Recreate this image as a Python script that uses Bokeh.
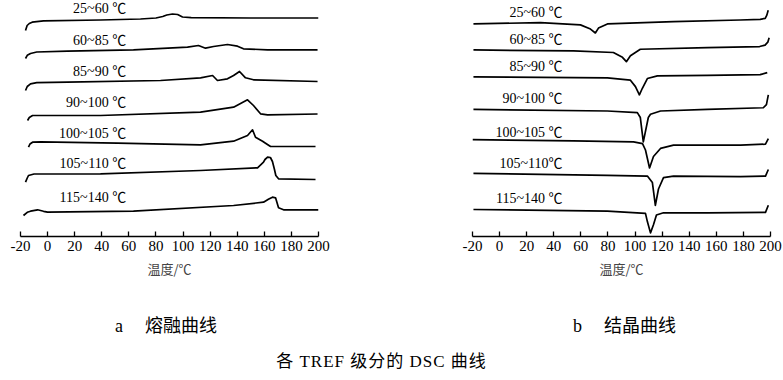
from bokeh.plotting import figure
from bokeh.models import Range1d, Div, FixedTicker, ColumnDataSource
from bokeh.layouts import row, column
from bokeh.embed import file_html
from bokeh.resources import INLINE
from bokeh.core.properties import value

# ---------------- data ----------------
melt_labels = ["25~60 ℃", "60~85 ℃", "85~90 ℃", "90~100 ℃", "100~105 ℃", "105~110 ℃", "115~140 ℃"]
cryst_labels = ["25~60 ℃", "60~85 ℃", "85~90 ℃", "90~100 ℃", "100~105 ℃", "105~110℃", "115~140 ℃"]
x_ticks = [-20, 0, 20, 40, 60, 80, 100, 120, 140, 160, 180, 200]
caption_a = ("a", "熔融曲线")
caption_b = ("b", "结晶曲线")
main_caption = "各 TREF 级分的 DSC 曲线"
x_label = "温度/℃"

# melting curves: temperature (°C) and heat flow (arb. units, endo up)
melt_t_1 = [-16.3, -15.1, -13.5, -11.4, -3, 39, 68.6, 80, 85, 88, 92.2, 96, 99.6, 106, 150, 200]
melt_h_1 = [-12.5, -7.5, -5.5, -4.2, -2.8, -2, -1, 0, 1.5, 3, 4, 3.5, 1, 0.3, 0, 0]
melt_t_2 = [-16.3, -15, -12.6, -8, 14.7, 63.4, 103.3, 111.4, 116.6, 122.5, 132.8, 140.2, 144.6, 162.4, 199.3]
melt_h_2 = [-8.7, -5.5, -3.7, -2.2, -1.4, 0, 2.6, 4.3, 1.6, 3.3, 5.3, 3.6, 1, 0, 0]
melt_t_3 = [-16.3, -15, -12.6, -8, 14.7, 83.4, 112.9, 121.8, 125.4, 132.8, 137.3, 141.7, 146.1, 152, 199.3]
melt_h_3 = [-9, -5, -2.3, -1.2, -0.7, 1, 3.7, 6, 1, 2.7, 6, 10, 3.7, 1.7, 0]
melt_t_4 = [-14.8, -13.5, -11.1, 39.1, 112.9, 137.3, 147.6, 152, 157.2, 162.4, 199.3]
melt_h_4 = [-6.5, -3.5, -1.5, -1.5, 1.8, 6.8, 14.2, 8.5, 0.2, -0.8, 0]
melt_t_5 = [-14.1, -13, -11.1, -5, 51.6, 112.9, 137.3, 147.6, 151.3, 153.5, 158.7, 160.9, 164.6, 197.8]
melt_h_5 = [-0.7, 2.5, 4.3, 4.6, 3.3, 1.7, 5.3, 11, 16.7, 9.3, 5.3, 3.3, 0, 0]
melt_t_6 = [-16.3, -15, -14.1, -10, 39.1, 112.9, 155, 159.4, 160.5, 162.4, 164.5, 166, 167.5, 168.5, 170.5, 197.8]
melt_h_6 = [-2.7, 1.5, 4, 5.5, 5.7, 9, 11.7, 17.3, 20, 22.3, 22, 18, 10, 4, 0.7, 0]
melt_t_7 = [-17.8, -15, -12.6, -7.4, -3, 0, 63.4, 137.3, 159.4, 163, 166, 168.3, 170.5, 174.2, 200]
melt_h_7 = [-5.7, -2.5, -1.4, 0, -1.5, -2.4, -1.4, 4.3, 7.6, 10.5, 12.6, 12, 2, 0, 0]

# crystallization curves: temperature (°C) and heat flow (arb. units, exo down)
cryst_t_1 = [-19.3, 30.2, 59.7, 67.1, 70.7, 73, 79.6, 128.4, 177.6, 192.4, 196.1, 197.3, 198.3]
cryst_h_1 = [0, 1.3, -1, -5.3, -9.3, -4.3, 0, 2.3, 4, 4.7, 5.7, 9, 14]
cryst_t_2 = [-19.3, 54.5, 84, 90.7, 93.6, 96.6, 103.9, 153.4, 192, 196, 198, 199]
cryst_h_2 = [0, -1, -2.6, -7.6, -12, -6, 0.7, 2.4, 3.5, 5, 8, 12.4]
cryst_t_3 = [-19.3, 79.6, 96.6, 100.3, 103.2, 105.4, 109.1, 116.5, 153.4, 192.4, 197.6]
cryst_h_3 = [0, -1, -3.4, -10, -18.4, -11.7, -1.7, 1, 1.6, 2.3, 4.3]
cryst_t_4 = [-19.3, 79.6, 101.7, 103.9, 106.1, 109.8, 111.4, 118.8, 153.4, 194.7, 197, 198.4]
cryst_h_4 = [0, -1.6, -3.3, -8.3, -33.3, -8.3, -5, -1.6, 0, 1.7, 5, 15]
cryst_t_5 = [-20, 54.5, 98.9, 105.5, 107.7, 110.7, 113.6, 118.8, 128.4, 177.9, 196.3, 198.4]
cryst_h_5 = [0, -1.3, -2.3, -4, -10.6, -29, -17.3, -9, -5.6, -5.6, -4.6, 1]
cryst_t_6 = [-19.3, 79.6, 109.1, 112.8, 115, 117.3, 121, 128.4, 177.9, 196.3, 198.4]
cryst_h_6 = [0, -2, -2.7, -9.4, -32.7, -16, -4.4, -2.7, -3.4, -2.7, 4]
cryst_t_7 = [-19.3, 79.6, 107.7, 109.1, 111.4, 113.6, 115.8, 121, 153.4, 196.3, 198.4]
cryst_h_7 = [0, -1.7, -4, -12.4, -24, -15.7, -5.7, -3.4, -3.4, -3, 4.3]

# ---------------- layout (positions, not data) ----------------
melt_base = [17.5, 49.3, 81, 113.5, 146, 179, 209.3]       # stacking offsets (px-like units)
cryst_base = [24, 50.7, 78.3, 111.7, 142.7, 177.3, 214.3]
melt_label_y = [8, 40, 71, 102, 133, 163, 197]
cryst_label_y = [12, 40, 68, 100, 135, 167, 203]
melt_label_x = 58
cryst_label_x = 46.5

SERIF = "Liberation Serif, Noto Sans CJK SC"
CJK = "Noto Sans CJK SC"
FIG_H = 292

melt_series = [(melt_t_1, melt_h_1), (melt_t_2, melt_h_2), (melt_t_3, melt_h_3), (melt_t_4, melt_h_4),
               (melt_t_5, melt_h_5), (melt_t_6, melt_h_6), (melt_t_7, melt_h_7)]
cryst_series = [(cryst_t_1, cryst_h_1), (cryst_t_2, cryst_h_2), (cryst_t_3, cryst_h_3), (cryst_t_4, cryst_h_4),
                (cryst_t_5, cryst_h_5), (cryst_t_6, cryst_h_6), (cryst_t_7, cryst_h_7)]


def make_panel(series, bases, labels, label_y, label_x, width, border_left, border_right, y_bottom):
    p = figure(width=width, height=FIG_H, output_backend="svg", toolbar_location=None,
               x_range=Range1d(-20, 200), y_range=Range1d(-y_bottom, 0),
               y_axis_location=None, min_border_left=border_left, min_border_right=border_right,
               min_border_top=0, min_border_bottom=FIG_H - y_bottom)
    p.outline_line_color = None
    p.xgrid.visible = False
    p.ygrid.visible = False
    for (t, h), b in zip(series, bases):
        p.line(t, [v - b for v in h], line_color="black", line_width=1.7, line_join="round")
    src = ColumnDataSource(dict(x=[label_x] * len(labels), y=[-v for v in label_y], text=labels))
    p.text(x="x", y="y", text="text", source=src, text_align="right", text_baseline="middle",
           text_font=value(SERIF), text_font_size="14px", text_color="black")
    ax = p.xaxis[0]
    ax.ticker = FixedTicker(ticks=x_ticks)
    ax.major_label_overrides = {-20: "-20"}
    ax.minor_tick_line_color = None
    ax.major_tick_in = 5
    ax.major_tick_out = 0
    ax.axis_line_width = 1.5
    ax.major_tick_line_width = 1.3
    ax.major_label_text_font = SERIF
    ax.major_label_text_font_size = "15px"
    ax.major_label_text_color = "black"
    ax.major_label_standoff = 4
    ax.axis_label = x_label
    ax.axis_label_text_font = CJK
    ax.axis_label_text_font_style = "normal"
    ax.axis_label_text_font_size = "13px"
    ax.axis_label_standoff = 5
    return p


def caption_div(cap, width, pad_left):
    html = ('<div style="display:block;width:%dpx;padding-top:24px;padding-left:%dpx;line-height:20px;'
            'font-size:18px;font-family:\'Liberation Serif\',\'Noto Sans CJK SC\';color:black;'
            'white-space:nowrap;">%s<span style="margin-left:22px;">%s</span></div>'
            % (width - pad_left, pad_left, cap[0], cap[1]))
    return Div(text=html, width=width, height=48, margin=0)


pa = make_panel(melt_series, melt_base, melt_labels, melt_label_y, melt_label_x, 440, 20, 122, 236)
pb = make_panel(cryst_series, cryst_base, cryst_labels, cryst_label_y, cryst_label_x, 343, 32, 13, 242)

cap_a = caption_div(caption_a, 440, 115)
cap_b = caption_div(caption_b, 343, 133)

main_title = Div(text='<div style="display:block;width:773px;padding-right:10px;text-align:center;'
                      'padding-top:12px;line-height:20px;font-size:17px;letter-spacing:1px;'
                      'font-family:\'Liberation Serif\',\'Noto Sans CJK SC\';color:black;">%s</div>'
                      % main_caption, width=783, height=38, margin=0)

layout = column(row(pa, pb), row(cap_a, cap_b), main_title)

with open("out.html", "w") as f:
    f.write(file_html(layout, INLINE))
